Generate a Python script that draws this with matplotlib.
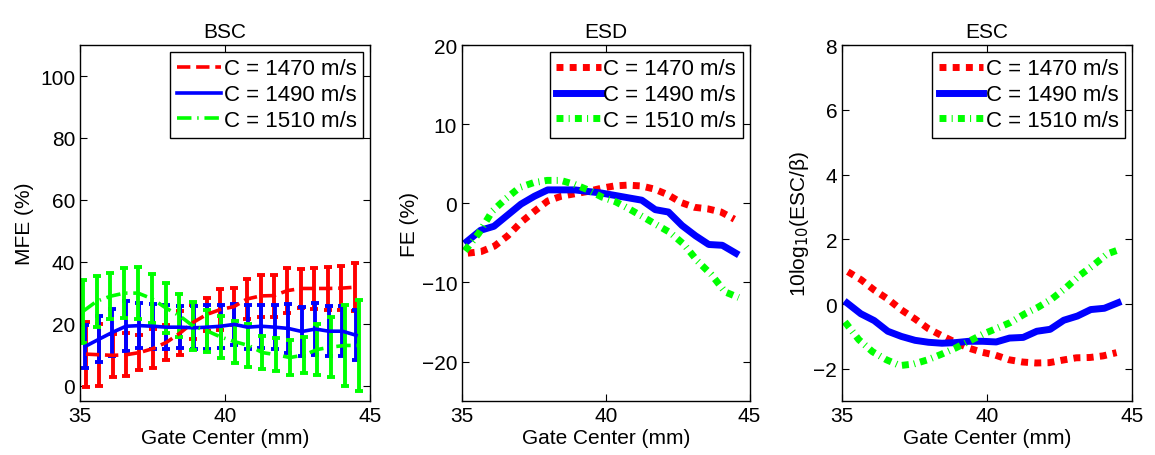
import matplotlib.pyplot as plt

plt.rcParams['font.family'] = ['Liberation Sans', 'DejaVu Sans']
plt.rcParams['font.size'] = 15

labels = ['C = 1470 m/s', 'C = 1490 m/s', 'C = 1510 m/s']
colors = ['#ff0000', '#0000ff', '#00ff00']

# gate centres (mm) for each sound speed
x_1470 = [35.20, 35.66, 36.13, 36.59, 37.05, 37.52, 37.98, 38.45, 38.91, 39.37, 39.84,
          40.30, 40.76, 41.23, 41.69, 42.15, 42.62, 43.08, 43.55, 44.01, 44.47]
x_1490 = [35.18, 35.65, 36.11, 36.58, 37.05, 37.52, 37.98, 38.45, 38.92, 39.38, 39.85,
          40.32, 40.78, 41.25, 41.72, 42.18, 42.65, 43.12, 43.58, 44.05, 44.52]
x_1510 = [35.10, 35.58, 36.05, 36.53, 37.00, 37.48, 37.96, 38.43, 38.91, 39.38, 39.86,
          40.34, 40.81, 41.29, 41.76, 42.24, 42.72, 43.19, 43.67, 44.15, 44.62]

# BSC: mean fractional error (%) and std
mfe_1470 = [10.2, 10.0, 9.8, 10.0, 10.7, 12.0, 14.0, 17.0, 20.5, 23.0, 24.6,
            25.5, 28.0, 29.0, 29.1, 30.7, 31.4, 31.4, 31.4, 31.5, 31.8]
err_1470 = [10.5, 10.0, 7.0, 6.9, 5.6, 6.2, 5.7, 7.0, 5.5, 5.4, 6.7,
            6.0, 6.3, 6.9, 6.8, 7.3, 6.2, 6.6, 6.8, 7.2, 7.8]
mfe_1490 = [12.7, 15.0, 17.2, 19.2, 19.4, 19.2, 18.9, 18.9, 18.7, 18.9, 19.2,
            19.8, 18.9, 19.2, 18.9, 18.5, 17.5, 18.3, 17.6, 17.6, 16.3]
err_1490 = [7.0, 7.4, 7.7, 8.0, 7.3, 7.3, 7.0, 6.7, 7.0, 7.0, 7.0,
            6.6, 7.0, 7.0, 7.0, 8.0, 8.0, 8.3, 8.0, 8.0, 8.0]
mfe_1510 = [24.0, 27.3, 28.9, 29.9, 29.9, 28.1, 25.1, 22.6, 19.2, 17.7, 15.7,
            14.2, 13.0, 10.7, 10.0, 9.1, 9.9, 11.7, 12.5, 13.0, 13.0]
err_1510 = [10.1, 8.2, 7.5, 8.1, 8.4, 8.0, 8.2, 7.0, 7.7, 6.7, 6.8,
            6.8, 7.0, 5.4, 5.3, 5.7, 5.9, 8.3, 9.6, 13.1, 14.7]

# ESD: fractional error (%)
fe_1470 = [-6.3, -6.1, -5.4, -4.1, -2.4, -1.0, 0.3, 0.9, 1.2, 1.5, 1.9,
           2.2, 2.3, 2.2, 1.8, 1.1, 0.1, -0.5, -0.7, -1.1, -2.0]
fe_1490 = [-4.8, -3.4, -2.9, -1.5, -0.1, 0.9, 1.7, 1.7, 1.7, 1.5, 1.3,
           1.0, 0.7, 0.4, -0.8, -1.1, -2.8, -4.1, -5.2, -5.3, -6.3]
fe_1510 = [-6.0, -3.8, -1.0, 0.6, 2.0, 2.6, 2.9, 2.9, 2.4, 1.7, 0.8,
           0.2, -0.7, -1.7, -2.7, -3.7, -5.2, -7.3, -9.0, -11.2, -11.9]

# ESC: 10log10(ESC/beta)
esc_1470 = [1.0, 0.75, 0.42, 0.15, -0.18, -0.46, -0.76, -0.98, -1.18, -1.36, -1.49,
            -1.58, -1.72, -1.79, -1.82, -1.81, -1.73, -1.66, -1.65, -1.60, -1.50]
esc_1490 = [0.03, -0.30, -0.51, -0.84, -1.00, -1.12, -1.18, -1.21, -1.19, -1.15, -1.15,
            -1.17, -1.05, -1.03, -0.84, -0.78, -0.50, -0.37, -0.17, -0.13, 0.04]
esc_1510 = [-0.55, -1.10, -1.47, -1.72, -1.90, -1.85, -1.72, -1.55, -1.36, -1.15, -0.93,
            -0.75, -0.57, -0.31, -0.10, 0.16, 0.50, 0.88, 1.20, 1.55, 1.70]

xs = [x_1470, x_1490, x_1510]

fig = plt.figure(figsize=(11.55, 4.56), dpi=100)
ax1 = fig.add_axes([0.0693, 0.118, 0.251, 0.781])
ax2 = fig.add_axes([0.400, 0.118, 0.249, 0.781])
ax3 = fig.add_axes([0.729, 0.118, 0.251, 0.781])

# BSC with error bars
styles1 = ['--', '-', (0, (4, 1.6, 0.4, 1.6))]
for x, y, e, c, ls, lab in zip(xs, [mfe_1470, mfe_1490, mfe_1510],
                               [err_1470, err_1490, err_1510], colors, styles1, labels):
    ax1.errorbar(x, y, yerr=e, color=c, linestyle=ls, lw=2.6, elinewidth=2.8,
                 capsize=3, capthick=2.8, label=lab)

# thick lines for ESD and ESC
styles2 = [(0, (1, 0.9)), '-', (0, (1, 0.75, 0.15, 0.75))]
for x, y, c, ls, lab in zip(xs, [fe_1470, fe_1490, fe_1510], colors, styles2, labels):
    ax2.plot(x, y, color=c, linestyle=ls, lw=5, label=lab)
for x, y, c, ls, lab in zip(xs, [esc_1470, esc_1490, esc_1510], colors, styles2, labels):
    ax3.plot(x, y, color=c, linestyle=ls, lw=5, label=lab)

ax1.set_ylim(-5, 110)
ax1.set_yticks([0, 20, 40, 60, 80, 100])
ax1.set_ylabel('MFE (%)')
ax1.set_title('BSC', fontsize=15)

ax2.set_ylim(-25, 20)
ax2.set_yticks([-20, -10, 0, 10, 20])
ax2.set_ylabel('FE (%)', labelpad=2)
ax2.set_title('ESD', fontsize=15)

ax3.set_ylim(-3, 8)
ax3.set_yticks([-2, 0, 2, 4, 6, 8])
ax3.set_ylabel('10log$_{10}$(ESC/β)', labelpad=2)
ax3.set_title('ESC', fontsize=15)

for ax in [ax1, ax2, ax3]:
    ax.set_xlim(35, 45)
    ax.set_xticks([35, 40, 45])
    ax.set_xlabel('Gate Center (mm)', labelpad=2)
    ax.tick_params(direction='in', top=True, right=True, length=5, width=0.8)
    for sp in ax.spines.values():
        sp.set_linewidth(1)
    handles, labs = ax.get_legend_handles_labels()
    if ax is ax1:
        handles = [h[0] for h in handles]
    leg = ax.legend(handles, labs, loc='upper right', fancybox=False, framealpha=1,
                    edgecolor='black', handlelength=2.0, handletextpad=0.12,
                    labelspacing=0.22, borderpad=0.3, borderaxespad=0.3, fontsize=16)
    leg.get_frame().set_linewidth(1)

fig.savefig('out.png', dpi=100)
